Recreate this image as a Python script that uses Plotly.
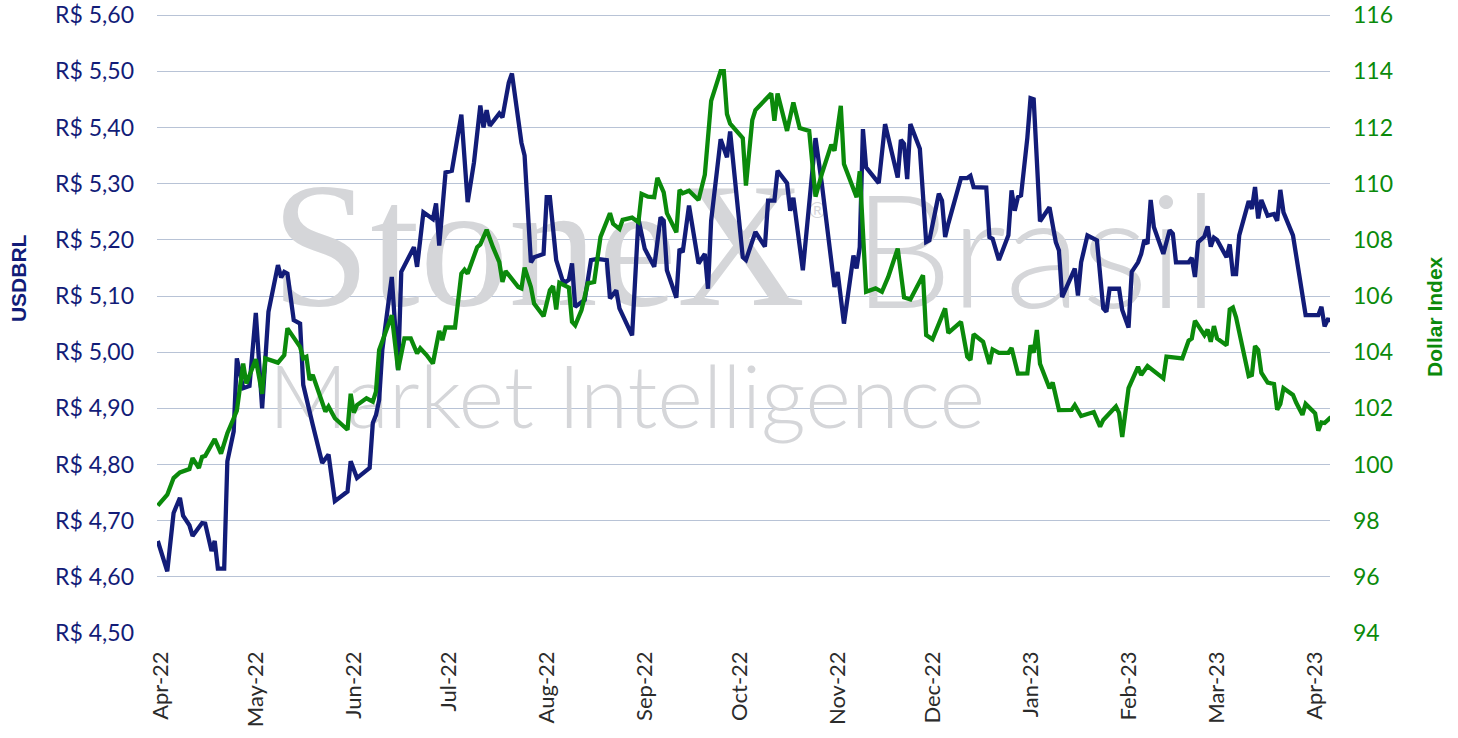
import plotly.graph_objects as go

# USDBRL (left axis)
brl_dates = [
    "2022-03-31", "2022-04-03", "2022-04-05", "2022-04-07", "2022-04-08", "2022-04-10", "2022-04-11",
    "2022-04-14", "2022-04-15", "2022-04-17", "2022-04-18", "2022-04-19", "2022-04-21", "2022-04-22",
    "2022-04-24", "2022-04-25", "2022-04-27", "2022-04-29", "2022-05-01", "2022-05-03", "2022-05-05",
    "2022-05-08", "2022-05-09", "2022-05-10", "2022-05-11", "2022-05-13", "2022-05-15", "2022-05-16",
    "2022-05-19", "2022-05-22", "2022-05-24", "2022-05-26", "2022-05-30", "2022-05-31", "2022-06-02",
    "2022-06-06", "2022-06-07", "2022-06-08", "2022-06-09", "2022-06-10", "2022-06-13", "2022-06-15",
    "2022-06-16", "2022-06-20", "2022-06-21", "2022-06-23", "2022-06-26", "2022-06-27", "2022-06-28",
    "2022-06-30", "2022-07-02", "2022-07-05", "2022-07-07", "2022-07-09", "2022-07-11", "2022-07-12",
    "2022-07-13", "2022-07-14", "2022-07-17", "2022-07-18", "2022-07-20", "2022-07-21", "2022-07-24",
    "2022-07-25", "2022-07-27", "2022-07-28", "2022-07-31", "2022-08-01", "2022-08-02", "2022-08-04",
    "2022-08-06", "2022-08-07", "2022-08-08", "2022-08-09", "2022-08-10", "2022-08-13", "2022-08-15",
    "2022-08-17", "2022-08-20", "2022-08-21", "2022-08-23", "2022-08-24", "2022-08-28", "2022-08-30",
    "2022-09-01", "2022-09-04", "2022-09-06", "2022-09-07", "2022-09-08", "2022-09-11", "2022-09-12",
    "2022-09-13", "2022-09-15", "2022-09-18", "2022-09-20", "2022-09-21", "2022-09-22", "2022-09-25",
    "2022-09-27", "2022-09-28", "2022-10-02", "2022-10-03", "2022-10-06", "2022-10-09", "2022-10-10",
    "2022-10-12", "2022-10-13", "2022-10-16", "2022-10-17", "2022-10-18", "2022-10-21", "2022-10-24",
    "2022-10-25", "2022-10-27", "2022-10-31", "2022-11-01", "2022-11-03", "2022-11-06", "2022-11-07",
    "2022-11-08", "2022-11-09", "2022-11-10", "2022-11-14", "2022-11-16", "2022-11-20", "2022-11-21",
    "2022-11-22", "2022-11-23", "2022-11-24", "2022-11-27", "2022-11-29", "2022-11-30", "2022-12-03",
    "2022-12-04", "2022-12-05", "2022-12-06", "2022-12-10", "2022-12-12", "2022-12-13", "2022-12-14",
    "2022-12-18", "2022-12-19", "2022-12-20", "2022-12-22", "2022-12-25", "2022-12-26", "2022-12-27",
    "2022-12-28", "2022-12-29", "2022-12-31", "2023-01-01", "2023-01-02", "2023-01-04", "2023-01-07",
    "2023-01-09", "2023-01-10", "2023-01-11", "2023-01-15", "2023-01-16", "2023-01-17", "2023-01-19",
    "2023-01-22", "2023-01-24", "2023-01-25", "2023-01-26", "2023-01-29", "2023-01-30", "2023-02-01",
    "2023-02-02", "2023-02-04", "2023-02-05", "2023-02-06", "2023-02-07", "2023-02-08", "2023-02-09",
    "2023-02-12", "2023-02-14", "2023-02-15", "2023-02-16", "2023-02-20", "2023-02-21", "2023-02-22",
    "2023-02-23", "2023-02-25", "2023-02-26", "2023-02-27", "2023-02-28", "2023-03-01", "2023-03-04",
    "2023-03-05", "2023-03-06", "2023-03-07", "2023-03-08", "2023-03-11", "2023-03-12", "2023-03-13",
    "2023-03-14", "2023-03-15", "2023-03-17", "2023-03-19", "2023-03-20", "2023-03-21", "2023-03-22",
    "2023-03-25", "2023-03-27", "2023-03-29", "2023-04-02", "2023-04-03", "2023-04-04", "2023-04-05",
    "2023-04-06",
]
brl_values = [
    4.664, 4.610, 4.714, 4.741, 4.709, 4.692, 4.673,
    4.696, 4.695, 4.646, 4.664, 4.615, 4.615, 4.806,
    4.859, 4.989, 4.936, 4.940, 5.070, 4.900, 5.072,
    5.155, 5.133, 5.143, 5.140, 5.057, 5.051, 4.942,
    4.871, 4.803, 4.818, 4.735, 4.752, 4.806, 4.776,
    4.794, 4.874, 4.888, 4.915, 5.004, 5.134, 4.968,
    5.143, 5.187, 5.152, 5.249, 5.237, 5.265, 5.190,
    5.320, 5.323, 5.423, 5.267, 5.338, 5.439, 5.400,
    5.431, 5.403, 5.425, 5.418, 5.480, 5.496, 5.373,
    5.350, 5.160, 5.169, 5.175, 5.276, 5.276, 5.164,
    5.128, 5.125, 5.129, 5.158, 5.081, 5.093, 5.164,
    5.166, 5.164, 5.096, 5.110, 5.078, 5.030, 5.237,
    5.184, 5.152, 5.240, 5.234, 5.146, 5.097, 5.184,
    5.178, 5.261, 5.158, 5.175, 5.113, 5.234, 5.379,
    5.347, 5.393, 5.169, 5.164, 5.214, 5.188, 5.270,
    5.270, 5.323, 5.301, 5.252, 5.275, 5.146, 5.323,
    5.381, 5.300, 5.116, 5.143, 5.051, 5.172, 5.149,
    5.187, 5.397, 5.329, 5.301, 5.406, 5.311, 5.378,
    5.371, 5.308, 5.406, 5.362, 5.196, 5.199, 5.282,
    5.270, 5.205, 5.229, 5.310, 5.310, 5.314, 5.294,
    5.293, 5.205, 5.202, 5.164, 5.208, 5.288, 5.252,
    5.276, 5.279, 5.382, 5.452, 5.450, 5.233, 5.258,
    5.196, 5.181, 5.098, 5.149, 5.101, 5.160, 5.208,
    5.199, 5.078, 5.072, 5.113, 5.113, 5.075, 5.044,
    5.143, 5.160, 5.175, 5.200, 5.193, 5.271, 5.223,
    5.175, 5.217, 5.211, 5.160, 5.160, 5.168, 5.134,
    5.196, 5.206, 5.224, 5.188, 5.204, 5.200, 5.169,
    5.192, 5.139, 5.139, 5.208, 5.269, 5.255, 5.294,
    5.238, 5.271, 5.243, 5.246, 5.234, 5.289, 5.249,
    5.208, 5.140, 5.066, 5.066, 5.081, 5.046, 5.058,
    5.057,
]

# Dollar Index (right axis)
dxy_dates = [
    "2022-03-31", "2022-04-03", "2022-04-05", "2022-04-07", "2022-04-10", "2022-04-11", "2022-04-13",
    "2022-04-14", "2022-04-15", "2022-04-18", "2022-04-20", "2022-04-22", "2022-04-24", "2022-04-25",
    "2022-04-27", "2022-04-28", "2022-05-01", "2022-05-03", "2022-05-04", "2022-05-08", "2022-05-10",
    "2022-05-11", "2022-05-15", "2022-05-16", "2022-05-17", "2022-05-18", "2022-05-19", "2022-05-23",
    "2022-05-24", "2022-05-26", "2022-05-30", "2022-05-31", "2022-06-01", "2022-06-02", "2022-06-05",
    "2022-06-07", "2022-06-08", "2022-06-09", "2022-06-13", "2022-06-15", "2022-06-17", "2022-06-19",
    "2022-06-21", "2022-06-22", "2022-06-24", "2022-06-26", "2022-06-28", "2022-06-29", "2022-06-30",
    "2022-07-03", "2022-07-05", "2022-07-06", "2022-07-07", "2022-07-10", "2022-07-11", "2022-07-13",
    "2022-07-15", "2022-07-17", "2022-07-18", "2022-07-19", "2022-07-23", "2022-07-24", "2022-07-25",
    "2022-07-27", "2022-07-28", "2022-07-31", "2022-08-02", "2022-08-03", "2022-08-04", "2022-08-05",
    "2022-08-08", "2022-08-09", "2022-08-10", "2022-08-12", "2022-08-14", "2022-08-16", "2022-08-18",
    "2022-08-21", "2022-08-22", "2022-08-24", "2022-08-25", "2022-08-28", "2022-08-30", "2022-08-31",
    "2022-09-02", "2022-09-04", "2022-09-05", "2022-09-07", "2022-09-08", "2022-09-11", "2022-09-12",
    "2022-09-13", "2022-09-15", "2022-09-18", "2022-09-20", "2022-09-21", "2022-09-22", "2022-09-25",
    "2022-09-26", "2022-09-27", "2022-09-28", "2022-10-02", "2022-10-03", "2022-10-05", "2022-10-06",
    "2022-10-11", "2022-10-12", "2022-10-13", "2022-10-16", "2022-10-18", "2022-10-20", "2022-10-23",
    "2022-10-25", "2022-10-27", "2022-10-30", "2022-10-31", "2022-11-02", "2022-11-03", "2022-11-05",
    "2022-11-07", "2022-11-08", "2022-11-10", "2022-11-13", "2022-11-15", "2022-11-17", "2022-11-20",
    "2022-11-22", "2022-11-24", "2022-11-28", "2022-11-29", "2022-12-01", "2022-12-05", "2022-12-06",
    "2022-12-10", "2022-12-12", "2022-12-13", "2022-12-14", "2022-12-17", "2022-12-19", "2022-12-20",
    "2022-12-22", "2022-12-25", "2022-12-26", "2022-12-28", "2022-12-31", "2023-01-01", "2023-01-02",
    "2023-01-03", "2023-01-04", "2023-01-07", "2023-01-08", "2023-01-10", "2023-01-14", "2023-01-15",
    "2023-01-17", "2023-01-21", "2023-01-23", "2023-01-24", "2023-01-28", "2023-01-29", "2023-01-30",
    "2023-02-01", "2023-02-04", "2023-02-05", "2023-02-07", "2023-02-12", "2023-02-13", "2023-02-18",
    "2023-02-20", "2023-02-21", "2023-02-22", "2023-02-25", "2023-02-26", "2023-02-27", "2023-02-28",
    "2023-03-01", "2023-03-04", "2023-03-05", "2023-03-06", "2023-03-07", "2023-03-11", "2023-03-12",
    "2023-03-13", "2023-03-14", "2023-03-15", "2023-03-17", "2023-03-19", "2023-03-20", "2023-03-21",
    "2023-03-22", "2023-03-25", "2023-03-26", "2023-03-28", "2023-03-29", "2023-04-01", "2023-04-02",
    "2023-04-03", "2023-04-04", "2023-04-06",
]
dxy_values = [
    98.54, 98.93, 99.52, 99.72, 99.84, 100.23, 99.88,
    100.27, 100.31, 100.91, 100.39, 101.12, 101.65, 101.92,
    103.60, 102.89, 103.75, 102.52, 103.78, 103.63, 103.90,
    104.85, 104.19, 103.78, 103.84, 103.01, 103.19, 101.89,
    102.07, 101.65, 101.24, 102.52, 101.85, 102.12, 102.36,
    102.24, 102.60, 104.08, 105.32, 103.37, 104.49, 104.49,
    103.96, 104.14, 103.90, 103.60, 104.76, 104.43, 104.88,
    104.88, 106.80, 106.94, 106.80, 107.74, 107.84, 108.36,
    107.74, 107.21, 106.50, 106.89, 106.32, 106.27, 107.01,
    106.32, 105.73, 105.28, 106.21, 106.35, 105.52, 106.47,
    106.30, 105.08, 104.96, 105.50, 106.45, 106.50, 108.10,
    108.95, 108.57, 108.39, 108.71, 108.79, 108.63, 109.64,
    109.54, 109.52, 110.21, 109.69, 108.95, 108.27, 109.78,
    109.66, 109.75, 109.42, 110.32, 111.47, 112.95, 114.01,
    114.01, 112.48, 112.14, 111.62, 109.93, 112.26, 112.62,
    113.21, 112.24, 113.21, 111.88, 112.89, 111.98, 111.88,
    109.54, 110.35, 111.39, 111.17, 112.77, 110.70, 110.11,
    109.52, 110.44, 106.15, 106.27, 106.15, 106.68, 107.69,
    105.95, 105.88, 106.74, 104.61, 104.46, 105.56, 104.69,
    105.08, 103.84, 103.72, 104.64, 104.37, 103.58, 104.10,
    103.98, 103.98, 104.15, 103.24, 103.25, 104.25, 103.98,
    104.79, 103.59, 102.72, 102.92, 101.94, 101.95, 102.12,
    101.73, 101.87, 101.35, 101.59, 102.07, 101.84, 100.98,
    102.72, 103.48, 103.19, 103.51, 103.07, 103.84, 103.78,
    104.41, 104.49, 105.12, 104.61, 104.81, 104.37, 104.93,
    104.49, 104.25, 105.52, 105.59, 105.24, 103.15, 103.19,
    104.22, 104.08, 103.27, 102.92, 102.87, 101.95, 102.16,
    102.72, 102.48, 102.21, 101.77, 102.16, 101.83, 101.21,
    101.50, 101.48, 101.69,
]

month_ticks = ["2022-04-01", "2022-05-01", "2022-06-01", "2022-07-01", "2022-08-01", "2022-09-01",
               "2022-10-01", "2022-11-01", "2022-12-01", "2023-01-01", "2023-02-01", "2023-03-01",
               "2023-04-01"]
month_labels = ["Apr-22", "May-22", "Jun-22", "Jul-22", "Aug-22", "Sep-22", "Oct-22", "Nov-22",
                "Dec-22", "Jan-23", "Feb-23", "Mar-23", "Apr-23"]

brl_ticks = [4.5, 4.6, 4.7, 4.8, 4.9, 5.0, 5.1, 5.2, 5.3, 5.4, 5.5, 5.6]
brl_labels = ["R$ 4,50", "R$ 4,60", "R$ 4,70", "R$ 4,80", "R$ 4,90", "R$ 5,00",
              "R$ 5,10", "R$ 5,20", "R$ 5,30", "R$ 5,40", "R$ 5,50", "R$ 5,60"]
dxy_ticks = [94, 96, 98, 100, 102, 104, 106, 108, 110, 112, 114, 116]

NAVY = "#121c78"
GREEN = "#0b8a0b"
WM = "#d5d6d9"
FONT = "Lato, sans-serif"

fig = go.Figure()

# watermark on a hidden base subplot so it sits under the lines
def watermark(x, y, txt, family, size, weight=400):
    fig.add_trace(go.Scatter(
        x=[x], y=[y], mode="text", text=[txt], textposition="middle center",
        textfont=dict(family=family, size=size, color=WM, weight=weight),
        hoverinfo="skip", xaxis="x", yaxis="y", showlegend=False))

watermark(0.325, 0.603, "StoneX", "Liberation Serif", 178)
watermark(0.563, 0.680, "®", "Liberation Sans", 22)
watermark(0.749, 0.590, "Brasil", "Lato", 158, 300)
watermark(0.4005, 0.368, "Market Intelligence", "Lato", 87.5, 300)

fig.add_trace(go.Scatter(
    x=brl_dates, y=brl_values, name="USDBRL", mode="lines",
    line=dict(color=NAVY, width=4.3), xaxis="x2", yaxis="y2"))
fig.add_trace(go.Scatter(
    x=dxy_dates, y=dxy_values, name="Dollar Index", mode="lines",
    line=dict(color=GREEN, width=4.3), xaxis="x2", yaxis="y3"))

fig.update_layout(
    width=1458, height=738,
    margin=dict(l=157, r=128, t=14, b=104, autoexpand=False),
    plot_bgcolor="white", paper_bgcolor="white",
    showlegend=False,
    font=dict(family=FONT),
    xaxis=dict(range=[0, 1], visible=False),
    yaxis=dict(range=[0, 1], visible=False),
    xaxis2=dict(
        overlaying="x", anchor="y2", type="date",
        range=["2022-03-30 18:00", "2023-04-05 17:00"],
        tickmode="array", tickvals=month_ticks, ticktext=month_labels,
        tickangle=-90, showgrid=False, zeroline=False, showline=False,
        ticks="", ticklabelstandoff=12,
        tickfont=dict(family=FONT, size=22, color="#2b2b2b"),
        automargin=False,
    ),
    yaxis2=dict(
        overlaying="y", anchor="x2", side="left",
        range=[4.4985, 5.602], tickmode="array", tickvals=brl_ticks, ticktext=brl_labels,
        showgrid=True, gridcolor="#b8c3d6", gridwidth=1,
        zeroline=False, showline=False, ticks="", ticklabelstandoff=22,
        ticklabeloverflow="allow",
        tickfont=dict(family=FONT, size=23, color=NAVY),
        automargin=False,
    ),
    yaxis3=dict(
        overlaying="y", anchor="x2", side="right",
        range=[93.97, 116.04], tickmode="array", tickvals=dxy_ticks,
        showgrid=False, zeroline=False, showline=False, ticks="", ticklabelstandoff=22,
        ticklabeloverflow="allow",
        tickfont=dict(family=FONT, size=23, color=GREEN),
        automargin=False,
    ),
    annotations=[
        dict(text="<b>USDBRL</b>", xref="paper", yref="paper", x=-0.1185, y=0.574,
             textangle=-90, showarrow=False, xanchor="center", yanchor="middle",
             font=dict(family="Liberation Sans", size=21, color=NAVY)),
        dict(text="<b>Dollar Index</b>", xref="paper", yref="paper", x=1.0895, y=0.513,
             textangle=-90, showarrow=False, xanchor="center", yanchor="middle",
             font=dict(family="Liberation Sans", size=21, color=GREEN)),
    ],
)

# drop the default 8px page margin so the figure fills the window exactly
fig.write_html("out.html", config={"displayModeBar": False},
               post_script="document.body.style.margin='0';document.body.style.overflow='hidden';")
